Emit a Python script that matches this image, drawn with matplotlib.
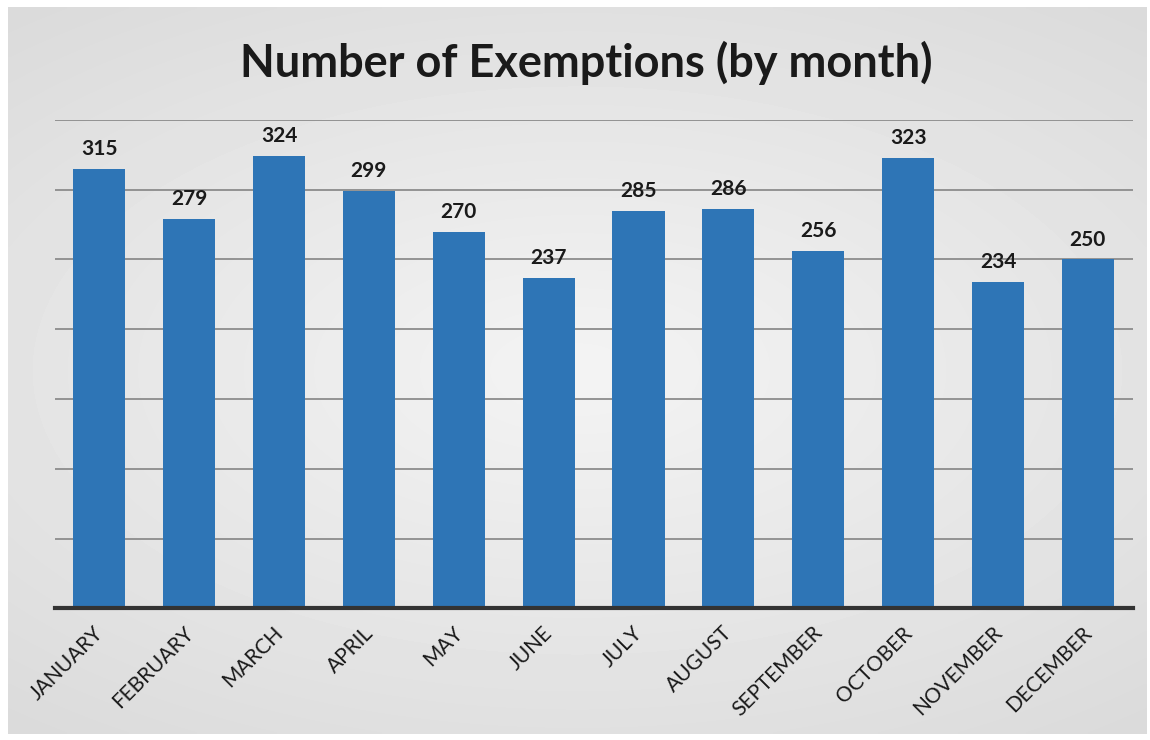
import numpy as np
import matplotlib
matplotlib.use('Agg')
import matplotlib.pyplot as plt
from matplotlib.transforms import ScaledTranslation

months = ['JANUARY', 'FEBRUARY', 'MARCH', 'APRIL', 'MAY', 'JUNE',
          'JULY', 'AUGUST', 'SEPTEMBER', 'OCTOBER', 'NOVEMBER', 'DECEMBER']
exemptions = [315, 279, 324, 299, 270, 237, 285, 286, 256, 323, 234, 250]
grid_ticks = [0, 50, 100, 150, 200, 250, 300, 350]

plt.rcParams['font.family'] = ['Lato', 'DejaVu Sans']

fig = plt.figure(figsize=(11.5, 7.4), dpi=100)
fig.patch.set_facecolor('white')

# scanned-page look: light grey panel, whiter toward the middle
bg = fig.add_axes([0.007, 0.008, 0.99, 0.982])
yy, xx = np.mgrid[-1:1:200j, -1:1:300j]
shade = 0.955 - 0.07 * np.clip(np.sqrt((xx * 0.9) ** 2 + (yy * 1.1) ** 2), 0, 1.4)
bg.imshow(shade, cmap='gray', vmin=0, vmax=1, aspect='auto',
          extent=[0, 1, 0, 1], interpolation='bilinear')
bg.set_axis_off()

ax = fig.add_axes([0.048, 0.178, 0.937, 0.66])
ax.patch.set_alpha(0)
x = np.arange(len(months))
ax.bar(x, exemptions, width=0.58, color='#2e75b6', zorder=3)

for xi, v in zip(x, exemptions):
    ax.text(xi, v + 7, str(v), ha='center', va='bottom',
            fontsize=15, fontweight='bold', color='#1a1a1a')

ax.set_xlim(-0.49, 11.5)
ax.set_ylim(0, 350)
ax.set_yticks(grid_ticks)
ax.yaxis.grid(True, color='#8c8c8c', linewidth=1.3, zorder=1)
ax.tick_params(axis='y', left=False, labelleft=False)
ax.tick_params(axis='x', bottom=False, pad=7)
ax.set_xticks(x)
ax.set_xticklabels(months, rotation=45, ha='right', va='top',
                   rotation_mode='anchor', fontsize=15, color='#1a1a1a')
shift = ScaledTranslation(-0.06, 0, fig.dpi_scale_trans)
for lbl in ax.get_xticklabels():
    lbl.set_transform(lbl.get_transform() + shift)
for side in ['top', 'right', 'left']:
    ax.spines[side].set_visible(False)
ax.spines['bottom'].set_color('#333333')
ax.spines['bottom'].set_linewidth(3)
ax.spines['bottom'].set_zorder(4)

fig.text(0.51, 0.915, 'Number of Exemptions (by month)', ha='center',
         va='center', fontsize=32.5, fontweight='bold', color='#1a1a1a')

fig.savefig('out.png', dpi=100)
